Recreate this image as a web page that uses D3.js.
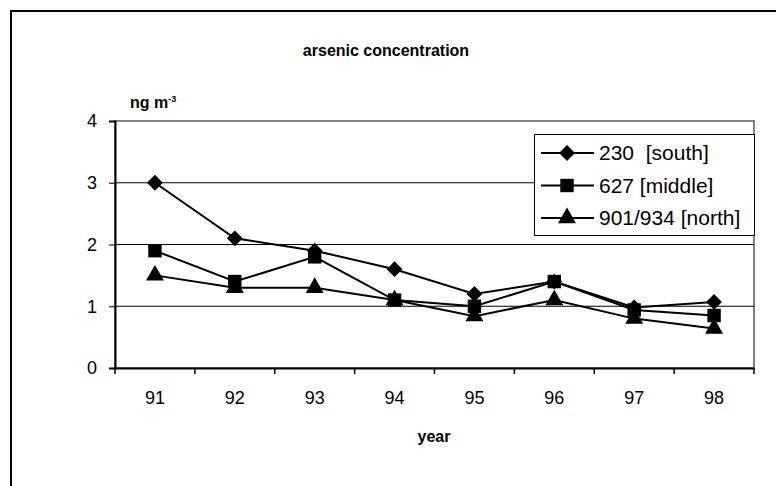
<!DOCTYPE html>
<html lang="en">
<head>
  <meta charset="utf-8">
  <title>arsenic concentration</title>
  <script src="https://cdn.jsdelivr.net/npm/d3@7"></script>
  <style>
    body { margin: 0; background: #fff; }
    text { font-family: "Liberation Sans", Arial, sans-serif; fill: #000; }
  </style>
</head>
<body>
  <svg class="chart" width="776" height="486"></svg>
  <script>
    var years = ["91", "92", "93", "94", "95", "96", "97", "98"];
    var south = [3.0, 2.1, 1.9, 1.6, 1.2, 1.4, 0.98, 1.07];
    var middle = [1.9, 1.4, 1.8, 1.1, 1.0, 1.4, 0.94, 0.85];
    var north = [1.5, 1.3, 1.3, 1.1, 0.84, 1.1, 0.8, 0.64];
    var yTicks = [0, 1, 2, 3, 4];

    // diamond = square turned 45 degrees
    var series = [
      { name: "230  [south]", values: south, symbol: d3.symbolSquare, size: 125, rot: 45 },
      { name: "627 [middle]", values: middle, symbol: d3.symbolSquare, size: 180, rot: 0 },
      { name: "901/934 [north]", values: north, symbol: d3.symbolTriangle, size: 140, rot: 0 }
    ];

    var pLeft = 115, pRight = 754, pTop = 121, pBottom = 368;
    var svg = d3.select("svg.chart");

    // outer chart frame (runs off the page right and bottom)
    svg.append("rect")
       .attr("x", 11).attr("y", 11)
       .attr("width", 800).attr("height", 500)
       .attr("fill", "none").attr("stroke", "#000").attr("stroke-width", 2);

    var x = d3.scaleBand().domain(years).range([pLeft, pRight]);
    var y = d3.scaleLinear().domain([0, 4]).range([pBottom, pTop]);

    // plot area border (grey)
    svg.append("rect")
       .attr("x", pLeft).attr("y", pTop)
       .attr("width", pRight - pLeft).attr("height", pBottom - pTop)
       .attr("fill", "none").attr("stroke", "#808080").attr("stroke-width", 2);

    // gridlines
    svg.selectAll("line.grid")
       .data(yTicks.slice(1, 4))
       .enter().append("line")
       .attr("class", "grid")
       .attr("x1", pLeft).attr("x2", pRight)
       .attr("y1", function(d) { return y(d); })
       .attr("y2", function(d) { return y(d); })
       .attr("stroke", "#000").attr("stroke-width", 1);

    // y axis
    var yAxis = svg.append("g")
       .attr("transform", "translate(" + pLeft + ",0)")
       .call(d3.axisLeft(y).tickValues(yTicks).tickFormat(d3.format("d")).tickSize(6).tickPadding(12));
    yAxis.select(".domain").attr("stroke", "#000").attr("stroke-width", 2);
    yAxis.selectAll("text").style("font-size", "18px");

    // x axis: ticks at category boundaries
    var xAxis = svg.append("g")
       .attr("transform", "translate(0," + pBottom + ")")
       .call(d3.axisBottom(x).tickSize(0).tickPadding(23));
    xAxis.select(".domain").attr("stroke", "#000").attr("stroke-width", 2);
    xAxis.selectAll("text").style("font-size", "18px");
    xAxis.selectAll("line.bound")
       .data(years.concat(["end"]))
       .enter().append("line")
       .attr("class", "bound")
       .attr("x1", function(d, i) { return pLeft + i * x.bandwidth(); })
       .attr("x2", function(d, i) { return pLeft + i * x.bandwidth(); })
       .attr("y1", 0).attr("y2", 6)
       .attr("stroke", "#000").attr("stroke-width", 1.5);

    var line = d3.line()
       .x(function(d, i) { return x(years[i]) + x.bandwidth() / 2; })
       .y(function(d) { return y(d); });

    series.forEach(function(s) {
      svg.append("path")
         .datum(s.values)
         .attr("d", line)
         .attr("fill", "none").attr("stroke", "#000").attr("stroke-width", 2);
      svg.selectAll(null)
         .data(s.values)
         .enter().append("path")
         .attr("d", d3.symbol().type(s.symbol).size(s.size))
         .attr("transform", function(d, i) {
           return "translate(" + (x(years[i]) + x.bandwidth() / 2) + "," + y(d) + ") rotate(" + s.rot + ")";
         })
         .attr("fill", "#000");
    });

    // titles
    svg.append("text")
       .attr("x", 386).attr("y", 56)
       .attr("text-anchor", "middle")
       .style("font-size", "16px").style("font-weight", "bold")
       .text("arsenic concentration");

    var unit = svg.append("text")
       .attr("x", 130).attr("y", 108)
       .style("font-size", "16px").style("font-weight", "bold");
    unit.append("tspan").text("ng m");
    unit.append("tspan").attr("dy", -6).style("font-size", "9px").text("-3");

    svg.append("text")
       .attr("x", 434).attr("y", 442)
       .attr("text-anchor", "middle")
       .style("font-size", "16px").style("font-weight", "bold")
       .text("year");

    // legend
    var lg = svg.append("g").attr("transform", "translate(534,134)");
    lg.append("rect")
       .attr("x", 0.5).attr("y", 0.5)
       .attr("width", 220).attr("height", 101)
       .attr("fill", "#fff").attr("stroke", "#000").attr("stroke-width", 1);
    series.forEach(function(s, i) {
      var cy = 19 + i * 32.5;
      lg.append("line")
         .attr("x1", 7).attr("x2", 60)
         .attr("y1", cy).attr("y2", cy)
         .attr("stroke", "#000").attr("stroke-width", 2);
      lg.append("path")
         .attr("d", d3.symbol().type(s.symbol).size(s.size))
         .attr("transform", "translate(33," + cy + ") rotate(" + s.rot + ")")
         .attr("fill", "#000");
      lg.append("text")
         .attr("x", 65).attr("y", cy + 7)
         .style("font-size", "21px").style("white-space", "pre")
         .text(s.name);
    });
  </script>
</body>
</html>
